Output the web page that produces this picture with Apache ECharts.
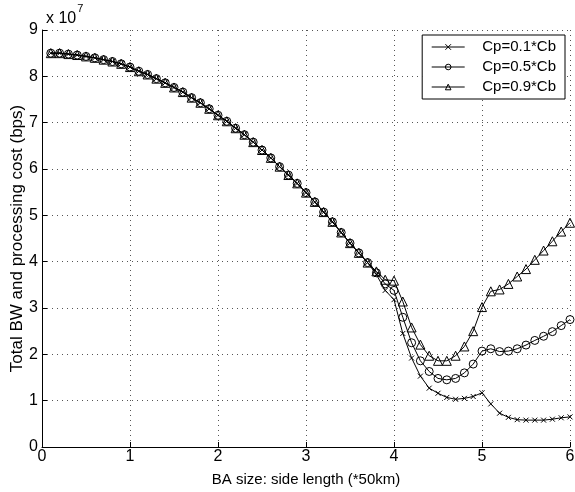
<!DOCTYPE html>
<html>
<head>
<meta charset="utf-8">
<title>Total BW and processing cost</title>
<script src="https://cdn.jsdelivr.net/npm/echarts@6/dist/echarts.min.js"></script>
<style>
  html, body { margin: 0; padding: 0; background: #fff; }
  #chart { width: 575px; height: 492px; }
</style>
</head>
<body>
<div id="chart"></div>
<script>
// BA side length (*50km)
const sideLength = [
  0.1, 0.2, 0.3, 0.4, 0.5, 0.6, 0.7, 0.8, 0.9, 1.0,
  1.1, 1.2, 1.3, 1.4, 1.5, 1.6, 1.7, 1.8, 1.9, 2.0,
  2.1, 2.2, 2.3, 2.4, 2.5, 2.6, 2.7, 2.8, 2.9, 3.0,
  3.1, 3.2, 3.3, 3.4, 3.5, 3.6, 3.7, 3.8, 3.9, 4.0,
  4.1, 4.2, 4.3, 4.4, 4.5, 4.6, 4.7, 4.8, 4.9, 5.0,
  5.1, 5.2, 5.3, 5.4, 5.5, 5.6, 5.7, 5.8, 5.9, 6.0
]

// shared part of the curves, x = 0.1 .. 3.7 (units of 1e7 bps)
const sharedCost = [
  8.50, 8.50, 8.48, 8.46, 8.43, 8.40, 8.36, 8.32, 8.27, 8.20,
  8.11, 8.04, 7.95, 7.86, 7.76, 7.66, 7.54, 7.43, 7.30, 7.16,
  7.03, 6.88, 6.74, 6.58, 6.41, 6.24, 6.05, 5.87, 5.69, 5.49,
  5.29, 5.07, 4.86, 4.63, 4.40, 4.19, 3.98
]

// x = 3.8 .. 6.0
const tailCp01 = [
  3.72, 3.38, 3.18, 2.45, 1.92, 1.53, 1.27, 1.16, 1.07, 1.03,
  1.05, 1.09, 1.17, 0.93, 0.73, 0.64, 0.59, 0.58, 0.58, 0.58,
  0.60, 0.63, 0.65
]
const tailCp05 = [
  3.76, 3.52, 3.38, 2.80, 2.25, 1.86, 1.63, 1.48, 1.45, 1.48,
  1.60, 1.79, 2.07, 2.12, 2.06, 2.07, 2.12, 2.20, 2.30, 2.39,
  2.49, 2.62, 2.75
]
const tailCp09 = [
  3.79, 3.61, 3.59, 3.14, 2.58, 2.21, 1.97, 1.86, 1.86, 1.97,
  2.17, 2.50, 3.02, 3.36, 3.40, 3.52, 3.68, 3.84, 4.04, 4.24,
  4.44, 4.65, 4.84
]

const seriesNames = ['Cp=0.1*Cb', 'Cp=0.5*Cb', 'Cp=0.9*Cb']
const xTicks = [0, 1, 2, 3, 4, 5, 6]
const yTicks = [0, 1, 2, 3, 4, 5, 6, 7, 8, 9]

const chart = echarts.init(document.getElementById('chart'))

const FONT = 'Liberation Sans, Arial, Helvetica, sans-serif'
const crossPath = 'path://M0,0L10,10M10,0L0,10'

function pairs(tail) {
  return sharedCost.concat(tail).map((v, i) => [sideLength[i], v])
}

function makeSeries(name, tail, symbol, size) {
  return {
    name: name,
    type: 'line',
    data: pairs(tail),
    symbol: symbol,
    symbolSize: size,
    showSymbol: true,
    lineStyle: { color: '#000', width: 1 },
    itemStyle: { color: 'rgba(0,0,0,0)', borderColor: '#000', borderWidth: 1 },
    emphasis: { disabled: true },
    animation: false
  }
}

const option = {
  backgroundColor: '#fff',
  animation: false,
  textStyle: { fontFamily: FONT },
  grid: { left: 42, right: 5, top: 30, bottom: 45, outerBoundsMode: 'none', containLabel: false },
  legend: {
    orient: 'vertical',
    right: 10,
    top: 35,
    itemGap: 4,
    itemWidth: 33,
    itemHeight: 7,
    padding: [4, 9, 4, 9],
    borderColor: '#000',
    borderWidth: 1,
    backgroundColor: '#fff',
    itemStyle: { borderWidth: 1 },
    lineStyle: { width: 1 },
    formatter: name => '   ' + name,
    textStyle: { color: '#000', fontSize: 15, lineHeight: 16, fontFamily: FONT },
    data: seriesNames
  },
  xAxis: {
    type: 'value',
    min: 0,
    max: 6,
    interval: 1,
    name: 'BA size: side length (*50km)',
    nameLocation: 'middle',
    nameGap: 25,
    nameMoveOverlap: false,
    nameTextStyle: { color: '#000', fontSize: 15, fontFamily: FONT },
    axisLine: { show: true, onZero: false, lineStyle: { color: '#000', width: 1 } },
    axisTick: { show: true, inside: true, length: 5, lineStyle: { color: '#000' } },
    axisLabel: {
      color: '#000', fontSize: 16, margin: 2, fontFamily: FONT,
      formatter: v => xTicks.includes(v) ? String(v) : ''
    },
    splitLine: { show: true, lineStyle: { color: '#555', type: [1, 4], width: 1 } }
  },
  yAxis: {
    type: 'value',
    min: 0,
    max: 9,
    interval: 1,
    name: 'Total BW and processing cost (bps)',
    nameLocation: 'middle',
    nameGap: 16,
    nameMoveOverlap: false,
    nameTextStyle: { color: '#000', fontSize: 17, fontFamily: FONT },
    axisLine: { show: true, onZero: false, lineStyle: { color: '#000', width: 1 } },
    axisTick: { show: true, inside: true, length: 5, lineStyle: { color: '#000' } },
    axisLabel: {
      color: '#000', fontSize: 16, margin: 4, fontFamily: FONT,
      formatter: v => yTicks.includes(v) ? String(v) : ''
    },
    splitLine: { show: true, lineStyle: { color: '#555', type: [1, 4], width: 1 } }
  },
  graphic: [
    {
      type: 'text',
      left: 46,
      top: 3,
      style: {
        text: '{a|x 10}{b|7}',
        rich: {
          a: { fontSize: 16, fontFamily: FONT, fill: '#000', padding: [8, 0, 0, 0] },
          b: { fontSize: 11, fontFamily: FONT, fill: '#000', verticalAlign: 'top', padding: [0, 0, 0, 1] }
        }
      }
    }
  ],
  series: [
    makeSeries(seriesNames[0], tailCp01, crossPath, 5),
    makeSeries(seriesNames[1], tailCp05, 'circle', 8),
    makeSeries(seriesNames[2], tailCp09, 'triangle', 9)
  ]
}

chart.setOption(option)

window.addEventListener('resize', () => {
  chart && chart.resize()
})
</script>
</body>
</html>
